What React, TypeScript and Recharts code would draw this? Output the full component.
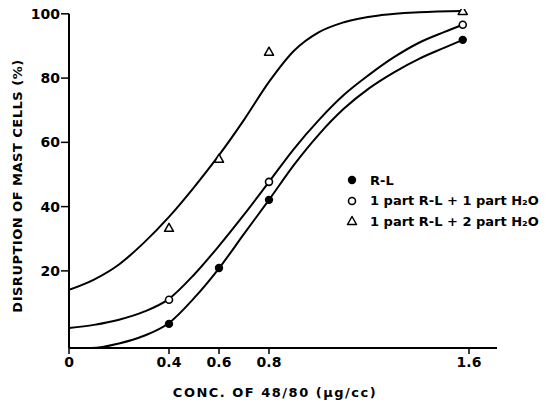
import React from 'react';
import { ComposedChart, Line, Scatter, XAxis, YAxis, ReferenceLine } from 'recharts';

const xTicks = [0, 0.4, 0.6, 0.8, 1.6];
const yTicks = [20, 40, 60, 80, 100];

const seriesNames = ['R-L', '1 part R-L + 1 part H₂O', '1 part R-L + 2 part H₂O'];

// measured points
const rlPointX = [0.4, 0.6, 0.8, 1.575];
const rlPointY = [3.5, 20.9, 42.1, 91.9];
const oneOneX = [0.4, 0.8, 1.575];
const oneOneY = [11, 47.7, 96.6];
const oneTwoX = [0.4, 0.6, 0.8, 1.575];
const oneTwoY = [33.4, 54.9, 88.2, 100.9];

// hand-drawn fitted curves
const rlCurveX = [0, 0.09, 0.2, 0.3, 0.4, 0.5, 0.6, 0.7, 0.8, 0.9, 1.0, 1.1, 1.2, 1.3, 1.4, 1.5, 1.575];
const rlCurveY = [-4, -4, -2.6, -0.2, 3.8, 11.5, 20.8, 31.5, 42.1, 53, 62.5, 70.5, 76.8, 81.8, 86, 89.4, 91.9];
const oneOneCurveX = [0, 0.1, 0.2, 0.3, 0.4, 0.5, 0.6, 0.7, 0.8, 0.9, 1.0, 1.1, 1.2, 1.3, 1.4, 1.5, 1.575];
const oneOneCurveY = [2.2, 3.2, 4.8, 7.3, 11.3, 18.8, 27.8, 37.5, 47.7, 58, 67, 74.8, 81, 86.5, 91, 94.3, 96.6];
const oneTwoCurveX = [0, 0.1, 0.2, 0.3, 0.4, 0.5, 0.6, 0.7, 0.8, 0.9, 1.0, 1.1, 1.25, 1.4, 1.575];
const oneTwoCurveY = [14.1, 17.3, 22, 28.8, 36.8, 46, 56, 67, 78.8, 88.5, 94.3, 97.4, 99.6, 100.5, 100.9];

const zip = (xs: number[], ys: number[]) => xs.map((x, i) => ({ x, y: ys[i] }));

const FONT = '"DejaVu Sans", sans-serif';

const FilledDot = (p: any) => <circle cx={p.cx} cy={p.cy} r={4.2} fill="#000" />;
const OpenDot = (p: any) => (
  <circle cx={p.cx} cy={p.cy} r={3.5} fill="#fff" stroke="#000" strokeWidth={1.6} />
);
const Tri = (p: any) => (
  <path
    d={`M${p.cx},${p.cy - 4.5} L${p.cx + 4.5},${p.cy + 3.5} L${p.cx - 4.5},${p.cy + 3.5} Z`}
    fill="#fff"
    stroke="#000"
    strokeWidth={1.5}
    strokeLinejoin="round"
  />
);

const markers = [FilledDot, OpenDot, Tri];

const LegendBox = () => (
  <div
    style={{
      position: 'absolute',
      left: 340,
      top: 170,
      fontFamily: FONT,
      fontWeight: 'bold',
      fontSize: 13,
      color: '#000',
      lineHeight: 1,
    }}
  >
    {seriesNames.map((name, i) => {
      const M = markers[i];
      return (
        <div key={name} style={{ display: 'flex', alignItems: 'center', height: 20.5, whiteSpace: 'nowrap' }}>
          <svg width={24} height={20} style={{ marginRight: 6 }}>
            <M cx={12} cy={10} />
          </svg>
          <span>{name}</span>
        </div>
      );
    })}
  </div>
);

const YLabel = () => (
  <text
    x={17}
    y={186}
    transform="rotate(-90, 17, 186)"
    textAnchor="middle"
    dominantBaseline="central"
    fontFamily={FONT}
    fontWeight="bold"
    fontSize={13}
    letterSpacing={0.5}
    fill="#000"
  >
    DISRUPTION OF MAST CELLS (%)
  </text>
);

const XLabel = () => (
  <text
    x={275}
    y={392}
    textAnchor="middle"
    dominantBaseline="central"
    fontFamily={FONT}
    fontWeight="bold"
    fontSize={13}
    letterSpacing={1.5}
    fill="#000"
  >
    CONC. OF 48/80 (µg/cc)
  </text>
);

export default function App() {
  return (
    <div style={{ position: 'absolute', left: 0, top: 0, width: 553, height: 400, background: '#fff' }}>
      <ComposedChart
        width={553}
        height={400}
        margin={{ top: 9, right: 56, bottom: 0, left: 0 }}
      >
        <XAxis
          dataKey="x"
          type="number"
          domain={[0, 1.712]}
          ticks={xTicks}
          tickFormatter={(v: number) => String(v)}
          height={52}
          tickSize={6}
          tickMargin={3}
          axisLine={{ stroke: '#000', strokeWidth: 2 }}
          tickLine={{ stroke: '#000', strokeWidth: 1.5 }}
          tick={{ fill: '#000', fontFamily: FONT, fontWeight: 'bold', fontSize: 14 }}
          allowDataOverflow
          label={<XLabel />}
        />
        <YAxis
          dataKey="y"
          type="number"
          domain={[-4, 101.5]}
          ticks={yTicks}
          width={69}
          tickSize={8}
          tickMargin={1}
          axisLine={false}
          tickLine={{ stroke: '#000', strokeWidth: 1.5 }}
          tick={{ fill: '#000', fontFamily: FONT, fontWeight: 'bold', fontSize: 14 }}
          allowDataOverflow
          label={<YLabel />}
        />
        <ReferenceLine
          segment={[{ x: 0, y: -4 }, { x: 0, y: 100 }]}
          stroke="#000"
          strokeWidth={2}
          ifOverflow="visible"
        />
        <Line
          data={zip(rlCurveX, rlCurveY)}
          dataKey="y"
          type="monotone"
          stroke="#000"
          strokeWidth={2}
          dot={false}
          activeDot={false}
          isAnimationActive={false}
          legendType="none"
        />
        <Line
          data={zip(oneOneCurveX, oneOneCurveY)}
          dataKey="y"
          type="monotone"
          stroke="#000"
          strokeWidth={2}
          dot={false}
          activeDot={false}
          isAnimationActive={false}
          legendType="none"
        />
        <Line
          data={zip(oneTwoCurveX, oneTwoCurveY)}
          dataKey="y"
          type="monotone"
          stroke="#000"
          strokeWidth={2}
          dot={false}
          activeDot={false}
          isAnimationActive={false}
          legendType="none"
        />
        <Scatter
          name={seriesNames[0]}
          data={zip(rlPointX, rlPointY)}
          dataKey="y"
          shape={FilledDot}
          isAnimationActive={false}
        />
        <Scatter
          name={seriesNames[1]}
          data={zip(oneOneX, oneOneY)}
          dataKey="y"
          shape={OpenDot}
          isAnimationActive={false}
        />
        <Scatter
          name={seriesNames[2]}
          data={zip(oneTwoX, oneTwoY)}
          dataKey="y"
          shape={Tri}
          isAnimationActive={false}
        />
      </ComposedChart>
      <LegendBox />
    </div>
  );
}
